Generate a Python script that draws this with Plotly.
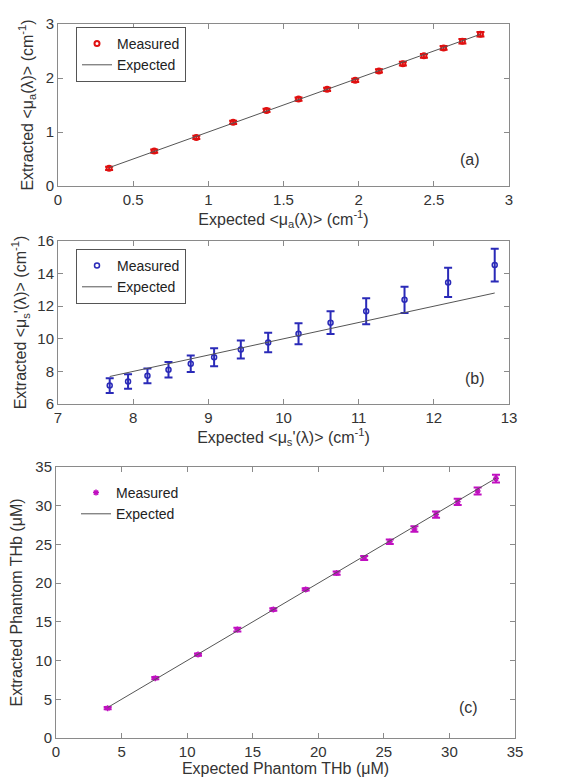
import plotly.graph_objects as go

# Panel (a): absorption
a_expected = [0.34, 0.64, 0.92, 1.165, 1.387, 1.60, 1.79, 1.977, 2.135, 2.294, 2.434, 2.565, 2.69, 2.81]
a_measured = [0.327, 0.648, 0.90, 1.18, 1.40, 1.61, 1.79, 1.957, 2.13, 2.265, 2.41, 2.556, 2.68, 2.81]
a_err = [0.03, 0.03, 0.03, 0.03, 0.03, 0.03, 0.03, 0.03, 0.03, 0.035, 0.035, 0.035, 0.04, 0.04]

# Panel (b): reduced scattering
b_expected = [7.688, 7.932, 8.19, 8.47, 8.766, 9.077, 9.432, 9.796, 10.2, 10.626, 11.10, 11.61, 12.19, 12.81]
b_measured = [7.13, 7.38, 7.73, 8.10, 8.47, 8.87, 9.34, 9.77, 10.31, 10.99, 11.69, 12.39, 13.46, 14.52]
b_err = [0.45, 0.45, 0.45, 0.48, 0.5, 0.55, 0.55, 0.6, 0.65, 0.7, 0.8, 0.8, 0.9, 1.0]

# Panel (c): total hemoglobin
c_expected = [3.94, 7.57, 10.83, 13.83, 16.57, 19.04, 21.4, 23.5, 25.45, 27.33, 28.98, 30.63, 32.15, 33.55]
c_measured = [3.85, 7.73, 10.77, 14.0, 16.6, 19.19, 21.3, 23.25, 25.34, 27.0, 28.85, 30.5, 31.9, 33.5]
c_err = [0.15, 0.15, 0.15, 0.25, 0.15, 0.15, 0.2, 0.25, 0.3, 0.35, 0.4, 0.4, 0.45, 0.5]

# page body has an 8px margin, so the figure is drawn slightly smaller and offset
OFF = 8
W, H = 562 - OFF, 777 - OFF
FONT = "Liberation Sans, Arial, sans-serif"

def px(x):
    return (x - OFF) / W

def py(y):
    return 1 - (y - OFF) / H

def xd(p0, p1):
    return [px(p0), px(p1)]

def yd(top, bottom):
    return [py(bottom), py(top)]

fig = go.Figure()

panels = [
    dict(ex=a_expected, me=a_measured, er=a_err, color="#e01010", symbol="circle-open",
         msize=5, mline=2, legend="legend", xa="x", ya="y"),
    dict(ex=b_expected, me=b_measured, er=b_err, color="#2a2ab8", symbol="circle-open",
         msize=5, mline=1.5, legend="legend2", xa="x2", ya="y2"),
    dict(ex=c_expected, me=c_measured, er=c_err, color="#c010c0", symbol="asterisk-open",
         msize=5, mline=1.5, legend="legend3", xa="x3", ya="y3"),
]

for p in panels:
    fig.add_trace(go.Scatter(
        x=p["ex"], y=p["me"], mode="markers", name="Measured",
        marker=dict(symbol=p["symbol"], size=p["msize"], color=p["color"],
                    line=dict(color=p["color"], width=p["mline"])),
        error_y=dict(type="data", array=p["er"], visible=True, color=p["color"],
                     thickness=2, width=4),
        xaxis=p["xa"], yaxis=p["ya"], legend=p["legend"]))
    fig.add_trace(go.Scatter(
        x=[p["ex"][0], p["ex"][-1]], y=[p["ex"][0], p["ex"][-1]], mode="lines",
        name="Expected", line=dict(color="#555555", width=1),
        xaxis=p["xa"], yaxis=p["ya"], legend=p["legend"]))

axis_common = dict(showgrid=False, zeroline=False, showline=True, linecolor="#8a8a8a",
                   linewidth=1, mirror="ticks", ticks="inside", ticklen=5,
                   tickcolor="#8a8a8a", automargin=False,
                   tickfont=dict(size=15, color="#333333", family=FONT),
                   title_font=dict(size=16, color="#333333", family=FONT))

legend_common = dict(xanchor="left", yanchor="top", tracegroupgap=0, itemwidth=30,
                     font=dict(size=14, color="#222222", family=FONT))

fig.update_layout(
    width=W, height=H, margin=dict(l=0, r=0, t=0, b=0, autoexpand=False),
    paper_bgcolor="white", plot_bgcolor="white",
    font=dict(family=FONT, color="#333333", size=15),
    xaxis=dict(domain=xd(58, 509), range=[0, 3], dtick=0.5, anchor="y",
               title=dict(text="Expected &lt;μ<sub>a</sub>(λ)&gt; (cm<sup>-1</sup>)", standoff=4),
               **axis_common),
    yaxis=dict(domain=yd(24, 186), range=[0, 3], dtick=1, anchor="x",
               title=dict(text="Extracted &lt;μ<sub>a</sub>(λ)&gt; (cm<sup>-1</sup>)", standoff=8),
               **axis_common),
    xaxis2=dict(domain=xd(58, 509), range=[7, 13], dtick=1, anchor="y2",
                title=dict(text="Expected &lt;μ<sub>s</sub>'(λ)&gt; (cm<sup>-1</sup>)", standoff=4),
                **axis_common),
    yaxis2=dict(domain=yd(241, 404), range=[6, 16], dtick=2, anchor="x2",
                title=dict(text="Extracted &lt;μ<sub>s</sub>'(λ)&gt; (cm<sup>-1</sup>)", standoff=6),
                **axis_common),
    xaxis3=dict(domain=xd(56, 515), range=[0, 35], dtick=5, anchor="y3",
                title=dict(text="Expected Phantom THb (μM)", standoff=2),
                **axis_common),
    yaxis3=dict(domain=yd(467, 738), range=[0, 35], dtick=5, anchor="x3",
                title=dict(text="Extracted Phantom THb (μM)", standoff=8),
                **axis_common),
    legend=dict(x=px(76), y=py(27), bgcolor="white", bordercolor="#555555",
                borderwidth=1, **legend_common),
    legend2=dict(x=px(76), y=py(249), bgcolor="white", bordercolor="#555555",
                 borderwidth=1, **legend_common),
    legend3=dict(x=px(76), y=py(477), bgcolor="rgba(0,0,0,0)", borderwidth=0,
                 **legend_common),
    showlegend=True,
)

for txt, xx, yy in [("(a)", 470, 159), ("(b)", 475, 378), ("(c)", 468, 707)]:
    fig.add_annotation(text=txt, xref="paper", yref="paper", x=px(xx), y=py(yy),
                       showarrow=False, font=dict(size=16, color="#333333", family=FONT),
                       xanchor="center", yanchor="middle")

fig.write_html("out.html")
